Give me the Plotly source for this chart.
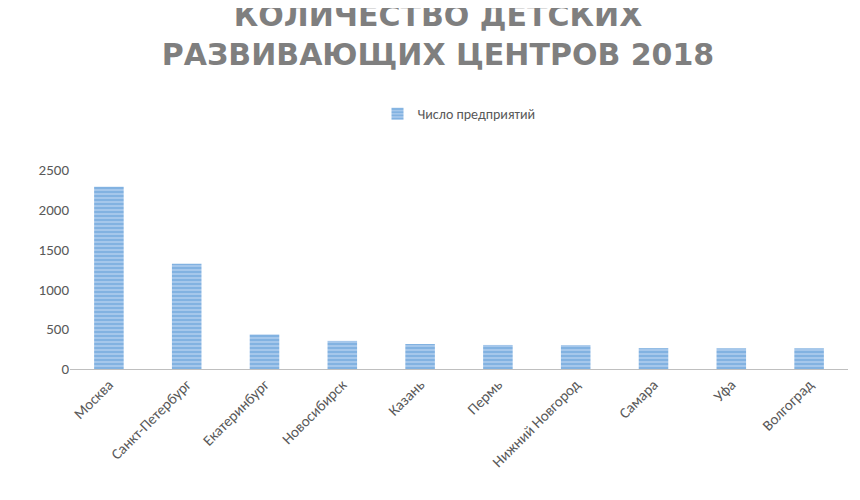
import plotly.graph_objects as go

cities = ['Москва', 'Санкт-Петербург', 'Екатеринбург', 'Новосибирск', 'Казань',
          'Пермь', 'Нижний Новгород', 'Самара', 'Уфа', 'Волгоград']
counts = [2290, 1322, 432, 353, 314, 302, 300, 262, 260, 260]

fig = go.Figure(go.Bar(
    x=cities, y=counts, name='Число предприятий',
    width=0.38,
    marker=dict(color='#a9c9ec', line=dict(width=0),
                pattern=dict(shape='-', fgcolor='#5b9bd5', size=4, solidity=0.55)),
))

fig.update_layout(
    width=860, height=500,
    paper_bgcolor='white', plot_bgcolor='white',
    font=dict(family='Calibri, Carlito, Liberation Sans, sans-serif', color='#595959'),
    title=dict(text='<b>КОЛИЧЕСТВО ДЕТСКИХ<br>РАЗВИВАЮЩИХ ЦЕНТРОВ 2018</b>',
               x=0.5, xanchor='center', yref='container', y=0.965, yanchor='top',
               font=dict(size=30, color='#7f7f7f', family='DejaVu Sans, sans-serif')),
    showlegend=True,
    legend=dict(orientation='h', x=0.5, xanchor='center', y=1.2, yanchor='bottom',
                font=dict(size=14, color='#595959')),
    margin=dict(l=62, r=20, t=162, b=139),
    xaxis=dict(tickangle=-45, tickfont=dict(size=15), showline=True,
               linecolor='#bfbfbf', linewidth=1, ticks=''),
    yaxis=dict(range=[0, 2500], dtick=500, tickfont=dict(size=15),
               showgrid=False, zeroline=False, showline=False, ticks=''),
)

fig.write_html("out.html")
